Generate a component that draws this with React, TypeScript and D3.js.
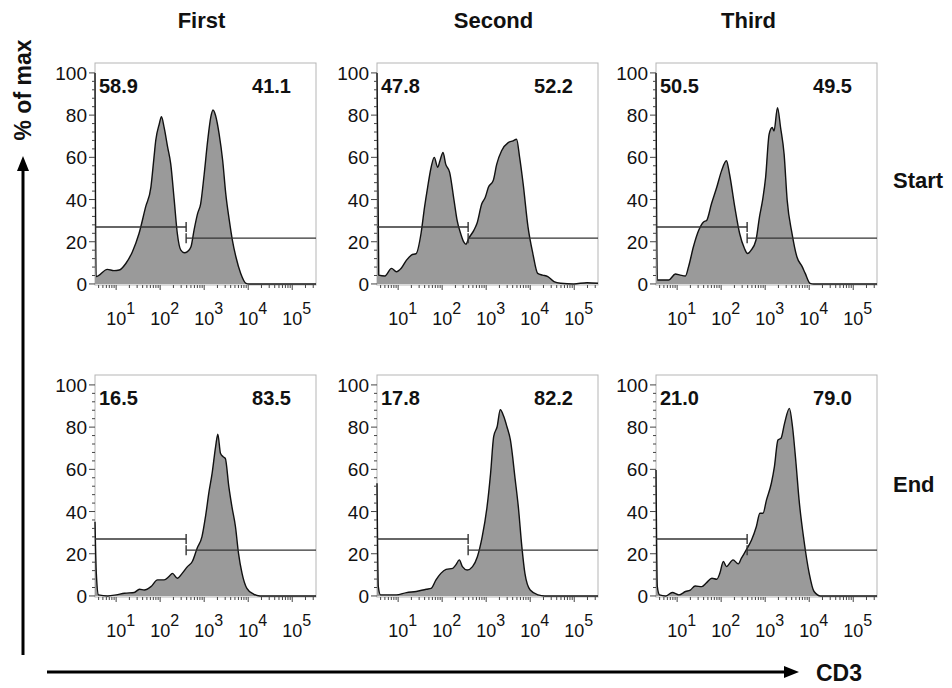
import * as d3 from 'd3';

// histogram outlines: [log10 CD3 intensity, % of max]
const startFirst: [number, number][] = [
  [0.52, 100], [0.545, 3.5], [0.8, 6.9], [0.95, 6.3], [1.07, 6.6], [1.22, 9.7], [1.37, 15.3],
  [1.52, 23.9], [1.67, 36.5], [1.79, 45.9], [1.86, 60], [1.9, 68], [1.98, 75.8], [2.03, 79.2],
  [2.09, 74.2], [2.17, 64.8], [2.24, 56.9], [2.32, 39.6], [2.39, 23.9], [2.47, 16], [2.55, 14.8],
  [2.62, 15.3], [2.7, 17.6], [2.77, 25.5], [2.85, 33.3], [2.92, 38], [3.0, 52], [3.08, 68],
  [3.15, 79], [3.2, 82.4], [3.26, 79.7], [3.34, 71], [3.42, 58.5], [3.49, 42.8], [3.57, 30.2],
  [3.64, 20.8], [3.72, 12.9], [3.83, 5], [3.95, 0.3], [4.02, 0], [5.54, 0],
];
const startSecond: [number, number][] = [
  [0.52, 100], [0.56, 4.2], [0.7, 3.8], [0.85, 7.4], [0.96, 5.8], [1.07, 7.4], [1.19, 11.3],
  [1.3, 13.7], [1.41, 14.4], [1.52, 23.9], [1.6, 36.4], [1.67, 45.8], [1.75, 55.3], [1.82, 60],
  [1.9, 55.3], [1.95, 58.4], [2.02, 62.3], [2.08, 56.8], [2.17, 52.9], [2.27, 39.6], [2.34, 30.1],
  [2.42, 23.9], [2.49, 19.9], [2.54, 18.8], [2.6, 21.5], [2.72, 25.4], [2.79, 28.6], [2.9, 38],
  [2.98, 41.1], [3.05, 45.8], [3.16, 49], [3.24, 56.8], [3.35, 63.1], [3.5, 67], [3.61, 67.8],
  [3.69, 68.6], [3.76, 60], [3.84, 47.4], [3.95, 27], [4.06, 14.4], [4.17, 5], [4.28, 4.2],
  [4.4, 3.5], [4.54, 1.1], [4.69, 0.3], [4.99, 0], [5.29, 0.6], [5.54, 0.3],
];
const startThird: [number, number][] = [
  [0.52, 100], [0.55, 1.9], [0.81, 1.9], [0.96, 4.7], [1.07, 4.2], [1.19, 3.8], [1.26, 8.2],
  [1.37, 17.6], [1.49, 25.4], [1.6, 29.4], [1.67, 30.1], [1.78, 38], [1.9, 45.8], [2.01, 53.7],
  [2.12, 58.4], [2.19, 52.1], [2.31, 36.4], [2.42, 23.9], [2.53, 16.8], [2.6, 14.4], [2.68, 16],
  [2.79, 20.7], [2.87, 31.7], [2.94, 39.6], [3.01, 50.5], [3.09, 71], [3.16, 74.1], [3.2, 72.5],
  [3.28, 83.5], [3.35, 74.1], [3.43, 61.5], [3.5, 39.6], [3.61, 23.9], [3.72, 12.9], [3.84, 8.2],
  [3.91, 5], [4.02, 0.3], [4.1, 0], [5.54, 0],
];
const endFirst: [number, number][] = [
  [0.52, 35.2], [0.55, 10.7], [0.6, 0.5], [0.81, 0], [1.0, 0.5], [1.19, 1.3], [1.41, 1.6],
  [1.53, 3.2], [1.64, 2.8], [1.79, 4.4], [1.94, 7.6], [2.09, 7.6], [2.2, 9.2], [2.28, 10.7],
  [2.39, 8.4], [2.5, 10.7], [2.62, 13.9], [2.73, 16.3], [2.84, 22.6], [2.95, 28.1], [3.03, 37.6],
  [3.11, 49.4], [3.18, 58.1], [3.26, 70.8], [3.31, 76.6], [3.37, 67.6], [3.43, 66], [3.48, 65.2],
  [3.56, 51.8], [3.63, 42.3], [3.71, 32.9], [3.78, 20.2], [3.86, 10.7], [3.97, 3.6], [4.12, 0.9],
  [4.27, 0], [5.54, 0],
];
const endSecond: [number, number][] = [
  [0.52, 53.4], [0.55, 4.4], [0.6, 0.5], [0.96, 0.5], [1.19, 1.6], [1.41, 2.1], [1.64, 3.2],
  [1.75, 3.6], [1.86, 7.6], [1.97, 10.7], [2.09, 12.6], [2.24, 13.1], [2.31, 14.7], [2.39, 17.1],
  [2.46, 13.9], [2.57, 12.3], [2.69, 13.9], [2.8, 18.6], [2.91, 28.1], [3.02, 42.3], [3.1, 58.1],
  [3.17, 75.5], [3.25, 80.3], [3.32, 88.2], [3.4, 85], [3.47, 80.3], [3.55, 73.9], [3.66, 55],
  [3.73, 42.3], [3.81, 23.4], [3.88, 10.7], [4.0, 2.8], [4.18, 0.5], [4.33, 0], [5.54, 0],
];
const endThird: [number, number][] = [
  [0.52, 59.7], [0.55, 4.4], [0.6, 0.5], [0.74, 0], [0.89, 1.6], [1.04, 0.5], [1.19, 2.1],
  [1.3, 2.8], [1.41, 4.7], [1.56, 4.4], [1.67, 6.3], [1.79, 8.4], [1.9, 7.9], [1.97, 10.7],
  [2.05, 16.3], [2.12, 13.9], [2.27, 17.1], [2.39, 15.2], [2.46, 17.9], [2.57, 21.8], [2.69, 26.5],
  [2.8, 32.9], [2.88, 39.2], [2.95, 39.2], [3.03, 45.5], [3.14, 53.4], [3.21, 61.3], [3.29, 73.9],
  [3.36, 74.7], [3.44, 81.8], [3.55, 88.9], [3.62, 80.3], [3.7, 62.9], [3.77, 45.5], [3.88, 26.5],
  [4.0, 10.7], [4.11, 2.1], [4.26, 0], [5.54, 0],
];

const columns = ['First', 'Second', 'Third'];
const rows = ['Start', 'End'];
const startPercents = [[58.9, 41.1], [47.8, 52.2], [50.5, 49.5]];
const endPercents = [[16.5, 83.5], [17.8, 82.2], [21.0, 79.0]];
const yTicks = [0, 20, 40, 60, 80, 100];
const xTickExps = [1, 2, 3, 4, 5];
const gateSplit = 2.59; // log10
const gateLeftLevel = 27;
const gateRightLevel = 21.7;

const FONT = '"Liberation Sans", Arial, Helvetica, sans-serif';
const W = 221;
const H = 222;
const colLeft = [95, 377, 656];
const rowTop = [63, 375];
const titleShift = [-4, 6, -18];
const LOG_MIN = 0.52;
const LOG_MAX = 5.54;

type Pt = [number, number];

const Panel = ({ left, top, data, pct }: { left: number; top: number; data: Pt[]; pct: number[] }) => {
  const x = d3.scaleLog().domain([10 ** LOG_MIN, 10 ** LOG_MAX]).range([left, left + W]);
  const y = d3.scaleLinear().domain([-0.5, 104.7]).range([top + H, top]);
  const px = (d: Pt) => x(10 ** d[0]);

  const area = d3.area<Pt>().x(px).y0(y(0)).y1(d => y(d[1])).curve(d3.curveMonotoneX);
  const line = d3.line<Pt>().x(px).y(d => y(d[1])).curve(d3.curveMonotoneX);

  const xMinor: { v: number; major: boolean }[] = [];
  for (let k = 0; k <= 5; k++) {
    for (let m = 1; m <= 9; m++) {
      const v = m * 10 ** k;
      if (v >= 10 ** LOG_MIN && v <= 10 ** LOG_MAX) xMinor.push({ v, major: m === 1 });
    }
  }
  const yMinor = d3.range(0, 101, 4);
  const gx = x(10 ** gateSplit);
  const bottom = top + H;

  return (
    <g>
      <rect x={left} y={top} width={W} height={H} fill="none" stroke="#b5b5b5" strokeWidth={1} />
      <path d={area(data) ?? ''} fill="#9a9a9a" />
      <path d={line(data) ?? ''} fill="none" stroke="#111" strokeWidth={1.4} />

      {/* gates */}
      <g stroke="#333" strokeWidth={1.4}>
        <line x1={left} x2={gx} y1={y(gateLeftLevel)} y2={y(gateLeftLevel)} />
        <line x1={gx} x2={gx} y1={y(gateLeftLevel) - 5} y2={y(gateLeftLevel) + 5} />
        <line x1={gx} x2={left + W} y1={y(gateRightLevel)} y2={y(gateRightLevel)} />
        <line x1={gx} x2={gx} y1={y(gateRightLevel) - 5} y2={y(gateRightLevel) + 5} />
      </g>

      {/* y axis */}
      <g stroke="#444" strokeWidth={1}>
        {yMinor.map(v => (
          <line key={v} x1={left - (v % 20 === 0 ? 6 : 3)} x2={left} y1={y(v)} y2={y(v)} />
        ))}
      </g>
      {yTicks.map(v => (
        <text key={v} x={left - 8} y={y(v) + 7} textAnchor="end" fontSize={19} fontFamily={FONT} fill="#111">
          {v}
        </text>
      ))}

      {/* x axis */}
      <g stroke="#444" strokeWidth={1}>
        {xMinor.map(t => (
          <line key={t.v} x1={x(t.v)} x2={x(t.v)} y1={bottom} y2={bottom + (t.major ? 5 : 3)} />
        ))}
      </g>
      {xTickExps.map(e => (
        <text key={e} x={x(10 ** e) - 10} y={bottom + 40} fontSize={18} fontFamily={FONT} fill="#111">
          10
          <tspan dy={-11} fontSize={16}>{e}</tspan>
        </text>
      ))}

      {/* population percentages */}
      <text x={left + 4} y={top + 30} fontSize={20} fontWeight="bold" fontFamily={FONT} fill="#111">
        {pct[0].toFixed(1)}
      </text>
      <text x={left + W - 25} y={top + 30} textAnchor="end" fontSize={20} fontWeight="bold" fontFamily={FONT} fill="#111">
        {pct[1].toFixed(1)}
      </text>
    </g>
  );
};

export default function App() {
  const grid: Pt[][][] = [
    [startFirst, startSecond, startThird],
    [endFirst, endSecond, endThird],
  ];
  const pcts = [startPercents, endPercents];
  const rowLabelY = [188, 492];

  return (
    <svg
      width={952}
      height={688}
      style={{ position: 'absolute', left: 0, top: 0, background: '#fff' }}
      fontFamily={FONT}
    >
      {columns.map((c, i) => (
        <text key={c} x={colLeft[i] + W / 2 + titleShift[i]} y={28} textAnchor="middle" fontSize={22} fontWeight="bold" fill="#111">
          {c}
        </text>
      ))}
      {rows.map((r, i) => (
        <text key={r} x={893} y={rowLabelY[i]} fontSize={22} fontWeight="bold" fill="#111">
          {r}
        </text>
      ))}

      {rows.map((r, ri) =>
        columns.map((c, ci) => (
          <Panel key={r + c} left={colLeft[ci]} top={rowTop[ri]} data={grid[ri][ci]} pct={pcts[ri][ci]} />
        ))
      )}

      {/* y label + arrow */}
      <text transform="translate(31,90) rotate(-90)" textAnchor="middle" fontSize={23} fontWeight="bold" fill="#111">
        % of max
      </text>
      <line x1={23} x2={23} y1={655} y2={168} stroke="#000" strokeWidth={3} />
      <polygon points="23,156 17,171 29,171" fill="#000" />

      {/* x label + arrow */}
      <line x1={47} x2={786} y1={672} y2={672} stroke="#000" strokeWidth={3} />
      <polygon points="799,672 784,666 784,678" fill="#000" />
      <text x={816} y={681} fontSize={23} fontWeight="bold" fill="#111">
        CD3
      </text>
    </svg>
  );
}
